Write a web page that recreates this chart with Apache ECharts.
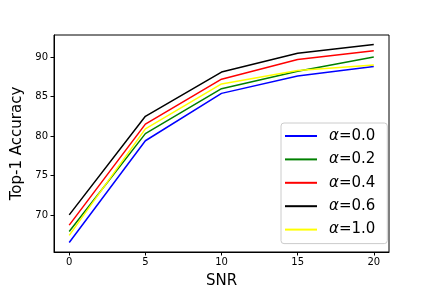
<!DOCTYPE html>
<html><head><meta charset="utf-8">
<script src="https://cdn.jsdelivr.net/npm/echarts@6/dist/echarts.min.js"></script>
<style>html,body{margin:0;padding:0;background:#fff}#c{width:432px;height:288px}</style>
</head><body><div id="c"></div>
<script>
var snr = [0, 5, 10, 15, 20];
var a00 = [66.5, 79.4, 85.4, 87.6, 88.8];
var a02 = [67.9, 80.3, 86.0, 88.2, 90.0];
var a04 = [68.7, 81.5, 87.2, 89.7, 90.8];
var a06 = [70.0, 82.5, 88.1, 90.5, 91.6];
var a10 = [67.4, 80.9, 86.6, 88.3, 89.0];
var names = ['α=0.0', 'α=0.2', 'α=0.4', 'α=0.6', 'α=1.0'];
var yTicks = [70, 75, 80, 85, 90];
var xTicks = [0, 5, 10, 15, 20];
var colors = ['#0000ff', '#008000', '#ff0000', '#000000', '#ffff00'];
var vals = [a00, a02, a04, a06, a10];

var font = 'DejaVu Sans';
var series = vals.map(function (v, i) {
  return {
    name: names[i], type: 'line', symbol: 'none', silent: true, animation: false,
    data: snr.map(function (x, j) { return [x, v[j]]; }),
    lineStyle: { color: colors[i], width: 1.5 }, itemStyle: { color: colors[i] }
  };
});
var chart = echarts.init(document.getElementById('c'));
chart.setOption({
  animation: false,
  backgroundColor: '#fff',
  grid: { left: 54, right: 43, top: 35, bottom: 36, show: true, borderColor: '#000', borderWidth: 1, backgroundColor: 'transparent', containLabel: false, outerBoundsMode: 'none' },
  xAxis: {
    type: 'value', min: -1, max: 21,
    name: 'SNR', nameLocation: 'middle', nameGap: 22,
    nameTextStyle: { fontFamily: font, fontSize: 15, color: '#000' },
    axisLine: { show: true, onZero: false, lineStyle: { color: '#000' } },
    axisTick: { show: true, inside: false, length: 3.5, lineStyle: { color: '#000' }, customValues: xTicks },
    axisLabel: { fontFamily: font, fontSize: 10, color: '#000', margin: 5, customValues: xTicks },
    splitLine: { show: false }
  },
  yAxis: {
    type: 'value', min: 65.3, max: 92.8,
    name: 'Top-1 Accuracy', nameLocation: 'middle', nameGap: 25,
    nameTextStyle: { fontFamily: font, fontSize: 15, color: '#000' },
    axisLine: { show: true, onZero: false, lineStyle: { color: '#000' } },
    axisTick: { show: true, length: 3.5, lineStyle: { color: '#000' }, customValues: yTicks },
    axisLabel: { fontFamily: font, fontSize: 10, color: '#000', margin: 6, customValues: yTicks },
    splitLine: { show: false }
  },
  legend: {
    orient: 'vertical', left: 281, top: 123,
    backgroundColor: '#fff', borderColor: '#cccccc', borderWidth: 1, borderRadius: 3,
    padding: [4, 12, 5, 4],
    itemWidth: 32, itemHeight: 2, itemGap: 5.4, icon: 'rect',
    data: names,
    formatter: function (n) { return '{a|α}' + n.slice(1); },
    textStyle: {
      fontFamily: font, fontSize: 15, color: '#000', lineHeight: 18, padding: [0, 0, 0, 7],
      rich: { a: { fontFamily: font, fontSize: 15, fontStyle: 'italic', color: '#000', lineHeight: 18 } }
    }
  },
  series: series
});
</script></body></html>
